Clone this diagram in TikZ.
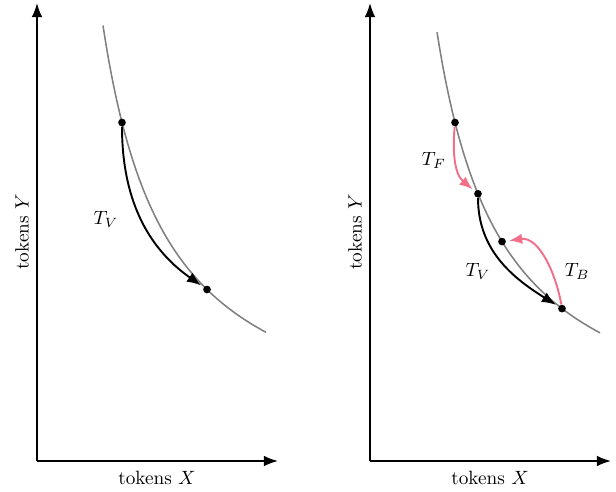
\documentclass[tikz,border=0pt]{standalone}
\usepackage{xcolor}
\usetikzlibrary{arrows.meta}
\definecolor{CurveGray}{HTML}{808080}
\definecolor{SwapPink}{HTML}{F36E88}
\definecolor{Ink}{HTML}{000000}
\tikzset{axis/.style={draw=Ink,line width=1pt,-{Latex[length=2.6mm,width=2mm]}},bondcurve/.style={draw=CurveGray,line width=0.8pt},pool/.style={circle,fill=Ink,inner sep=0pt,minimum size=4pt},trade/.style={draw=Ink,line width=1pt,-{Latex[length=2.6mm,width=2mm]},shorten >=1.5pt},arb/.style={draw=SwapPink,line width=1pt,-{Latex[length=2.4mm,width=1.9mm]},shorten >=1.5pt},lbl/.style={text=Ink,inner sep=0pt}}
\begin{document}
\begin{tikzpicture}[x=5.2pt,y=5.2pt]
\useasboundingbox (0,0) rectangle (61.6,49.1);
\coordinate (O1) at (3.7,3.0);\coordinate (Y1) at (3.7,48.8);\coordinate (X1) at (27.8,3.0);
\draw[axis] (O1)--(Y1);\draw[axis] (O1)--(X1);
\draw[bondcurve] plot[domain=6.6:22.9,samples=60,smooth] ({3.7+\x},{3.6+280/(\x-0.08)});
\node[pool] (L1) at (12.2,36.85) {};\node[pool] (L2) at (20.7,20.15) {};
\draw[trade] (L1) to[out=-90,in=145] (L2);
\node[lbl] (LV) at (10.6,27.2) {$T_V$};
\node[lbl] (LX) at (15.7,1.3) {tokens $X$};\node[lbl,rotate=90] (LY) at (2.2,25.9) {tokens $Y$};
\coordinate (O2) at (37.0,3.0);\coordinate (Y2) at (37.0,48.8);\coordinate (X2) at (61.1,3.0);
\draw[axis] (O2)--(Y2);\draw[axis] (O2)--(X2);
\draw[bondcurve] plot[domain=6.7:23.0,samples=60,smooth] ({37.0+\x},{3.6+280/(\x-0.08)});
\node[pool] (R1) at (45.5,36.85) {};\node[pool] (R2) at (47.8,29.72) {};\node[pool] (R3) at (50.2,24.94) {};\node[pool] (R4) at (56.2,18.24) {};
\draw[arb] (R1) to[out=-95,in=140] (R2);
\draw[trade] (R2) to[out=-90,in=148] (R4);
\draw[arb] (R4) to[out=100,in=8] (R3);
\node[lbl] (RF) at (43.4,33.1) {$T_F$};\node[lbl] (RV) at (47.8,22.0) {$T_V$};\node[lbl] (RB) at (57.7,22.0) {$T_B$};
\node[lbl] (RX) at (49.0,1.3) {tokens $X$};\node[lbl,rotate=90] (RY) at (35.5,25.9) {tokens $Y$};
\end{tikzpicture}
\end{document}
